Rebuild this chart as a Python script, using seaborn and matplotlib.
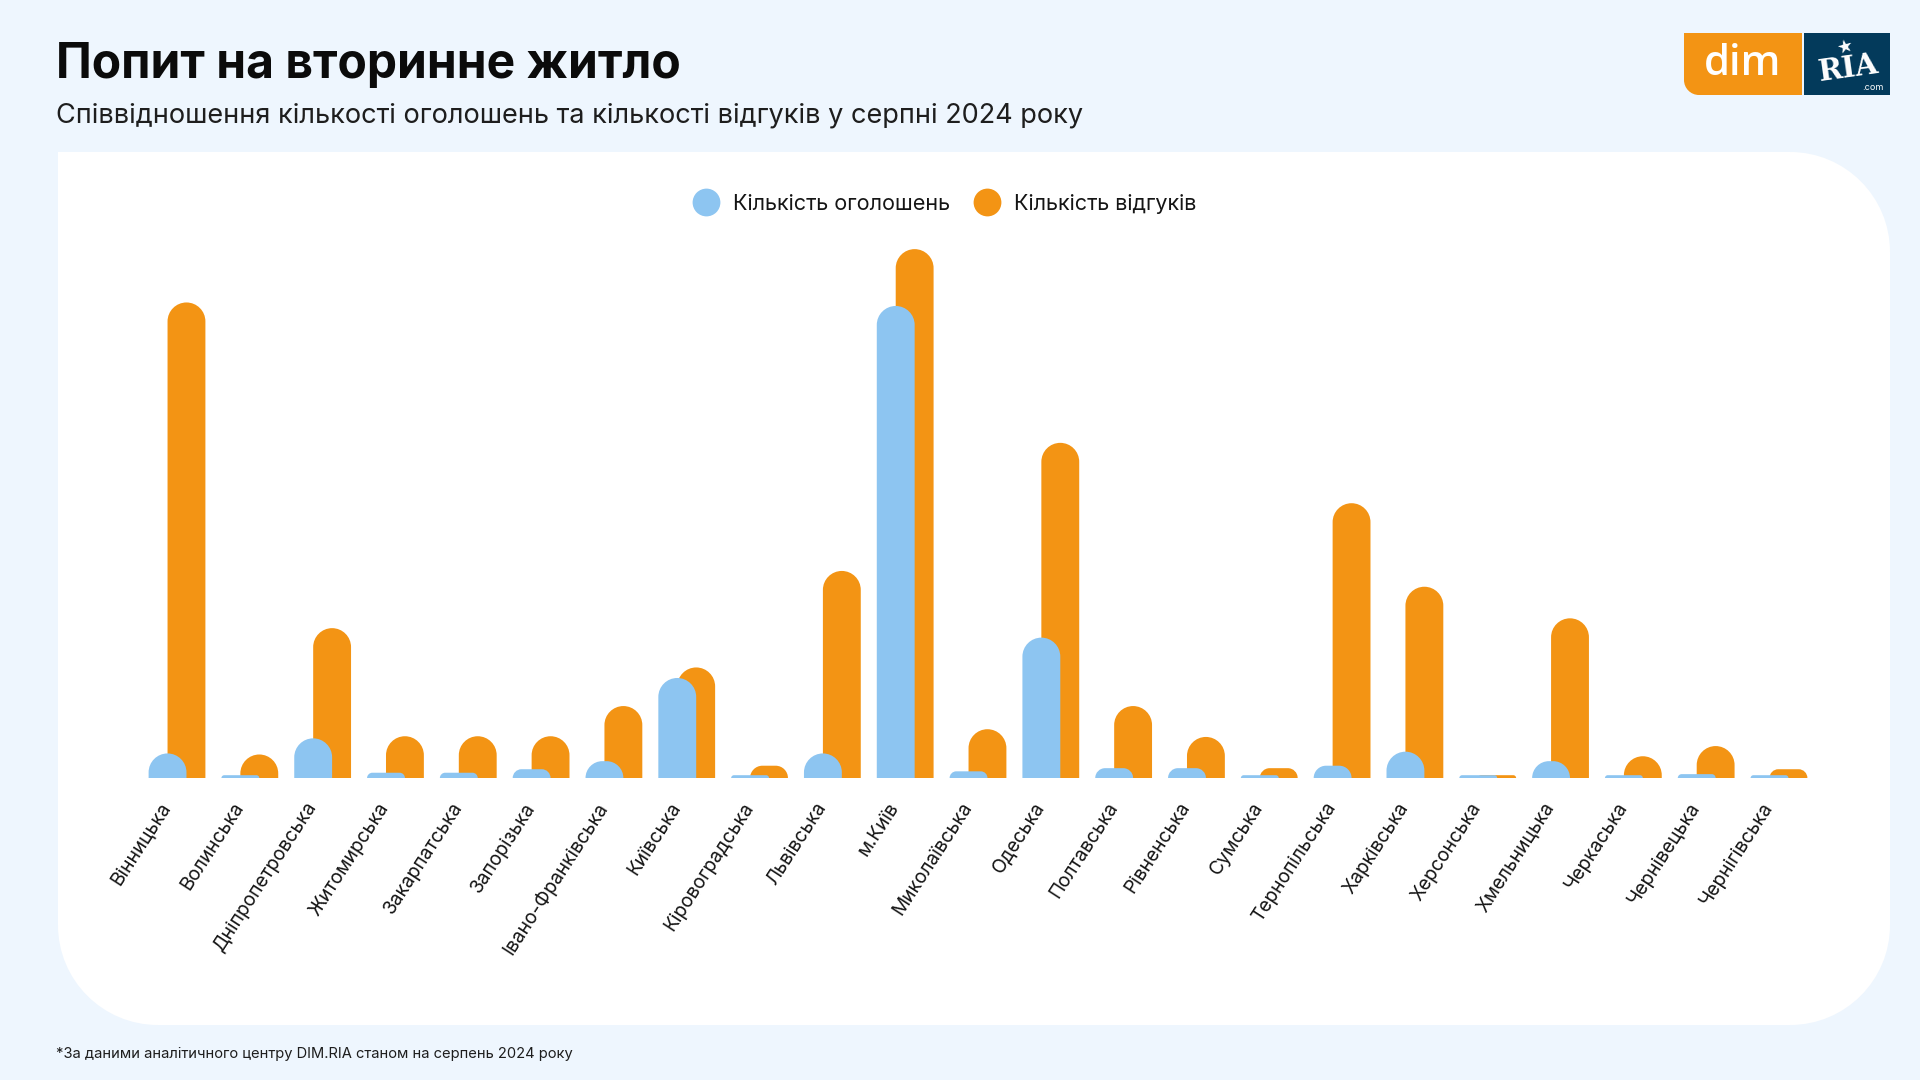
import matplotlib
matplotlib.use("Agg")
import matplotlib.pyplot as plt
import seaborn as sns
import pandas as pd
from matplotlib.path import Path
from matplotlib.patches import PathPatch
from matplotlib.transforms import Affine2D, ScaledTranslation
from matplotlib.lines import Line2D

# ---------------- data ----------------
regions = ["Вінницька", "Волинська", "Дніпропетровська", "Житомирська", "Закарпатська",
           "Запорізька", "Івано-Франківська", "Київська", "Кіровоградська", "Львівська",
           "м.Київ", "Миколаївська", "Одеська", "Полтавська", "Рівненська", "Сумська",
           "Тернопільська", "Харківська", "Херсонська", "Хмельницька", "Черкаська",
           "Чернівецька", "Чернігівська"]
listings = [70, 8, 113, 15, 15, 25, 48, 285, 8, 70, 1345, 19, 400, 28, 28, 8,
            35, 75, 8, 48, 8, 11, 8]
responses = [1355, 67, 427, 119, 119, 119, 205, 315, 35, 590, 1507, 139, 955, 205,
             117, 28, 783, 545, 8, 455, 62, 91, 25]
series_names = ["Кількість оголошень", "Кількість відгуків"]
colors = ["#8DC5F1", "#F39414"]

title = "Попит на вторинне житло"
subtitle = "Співвідношення кількості оголошень та кількості відгуків у серпні 2024 року"
footnote = "*За даними аналітичного центру DIM.RIA станом на серпень 2024 року"

df = pd.DataFrame({"region": regions * 2,
                   "value": listings + responses,
                   "series": [series_names[0]] * len(regions) + [series_names[1]] * len(regions)})

# ---------------- figure ----------------
W, H = 1920, 1080
sns.set_theme(style="white")
plt.rcParams['font.family'] = ['Inter', 'DejaVu Sans']

fig = plt.figure(figsize=(W / 100, H / 100), dpi=100)
fig.patch.set_facecolor("#EEF6FE")
PX = Affine2D().scale(1 / W, 1 / H) + fig.transFigure  # pixel (y up) -> figure


def rrect(x0, y0, x1, y1, r_tl, r_tr, r_br, r_bl):
    k = 0.5523
    verts, codes = [], []

    def mv(p):
        verts.append(p); codes.append(Path.MOVETO)

    def ln(p):
        verts.append(p); codes.append(Path.LINETO)

    def cv(c1, c2, p):
        verts.extend([c1, c2, p]); codes.extend([Path.CURVE4] * 3)

    mv((x0 + r_bl, y0))
    ln((x1 - r_br, y0))
    if r_br:
        cv((x1 - r_br + k * r_br, y0), (x1, y0 + r_br - k * r_br), (x1, y0 + r_br))
    ln((x1, y1 - r_tr))
    if r_tr:
        cv((x1, y1 - r_tr + k * r_tr), (x1 - r_tr + k * r_tr, y1), (x1 - r_tr, y1))
    ln((x0 + r_tl, y1))
    if r_tl:
        cv((x0 + r_tl - k * r_tl, y1), (x0, y1 - r_tl + k * r_tl), (x0, y1 - r_tl))
    ln((x0, y0 + r_bl))
    if r_bl:
        cv((x0, y0 + r_bl - k * r_bl), (x0 + r_bl - k * r_bl, y0), (x0 + r_bl, y0))
    verts.append((x0 + r_bl, y0)); codes.append(Path.CLOSEPOLY)
    return Path(verts, codes)


# white panel (top-left corner square, others rounded)
panel = PathPatch(rrect(58, H - 1025, 1890, H - 152, 0, 100, 100, 100),
                  facecolor="white", edgecolor="none", transform=PX, zorder=-10)
fig.add_artist(panel)

# ---------------- axes ----------------
left_px, right_px, base_px, top_px = 140.6, 1815.4, 778, 240
ax = fig.add_axes([left_px / W, 1 - base_px / H, (right_px - left_px) / W, (base_px - top_px) / H])
ax.set_zorder(1)
ax.patch.set_alpha(0)

sns.barplot(data=df, x="region", y="value", hue="series", order=regions,
            hue_order=series_names, palette=colors, legend=False, ax=ax,
            saturation=1, width=0.8, dodge=True)
ax.set_xlim(-0.5, len(regions) - 0.5)
ax.set_ylim(0, 1533)
for s in ax.spines.values():
    s.set_visible(False)
ax.set_yticks([])
ax.set_xlabel("")
ax.set_ylabel("")
ax.grid(False)

# replace seaborn's rectangles by bars with rounded tops (drawn in pixel space)
bar_w = 0.52
shift = 0.13
to_px = ax.transData + fig.transFigure.inverted() + Affine2D().scale(W, H)
bars = list(ax.patches)
for p in bars:
    cx = p.get_x() + p.get_width() / 2
    h = p.get_height()
    gi = round(cx)
    is_blue = cx < gi
    new_c = gi - shift if is_blue else gi + shift
    (x0, y0), (x1, y1) = to_px.transform([(new_c - bar_w / 2, 0), (new_c + bar_w / 2, h)])
    r = min((x1 - x0) / 2, y1 - y0)
    patch = PathPatch(rrect(x0, y0, x1, y1, r, r, 0, 0), facecolor=p.get_facecolor(),
                      edgecolor="none", transform=PX, zorder=3 if is_blue else 2)
    patch.set_clip_on(False)
    ax.add_artist(patch)
    p.set_visible(False)

ax.set_xticks(range(len(regions)))
ax.set_xticklabels(regions, rotation=57, ha="right", va="center",
                   rotation_mode="anchor", fontsize=13.8, color="#151515")
ax.tick_params(axis="x", length=0, pad=16)
offset = ScaledTranslation(-10 / 100, -4 / 100, fig.dpi_scale_trans)
for lbl in ax.get_xticklabels():
    lbl.set_transform(lbl.get_transform() + offset)

# ---------------- legend ----------------
handles = [Line2D([0], [0], marker="o", linestyle="none", markersize=20,
                  markerfacecolor=c, markeredgecolor="none") for c in colors]
fig.legend(handles, series_names, loc="center", bbox_to_anchor=(945 / W, 1 - 204 / H),
           ncol=2, frameon=False, fontsize=15.5, handletextpad=0.65, columnspacing=1.1,
           handlelength=1.2, labelcolor="#151515")

# ---------------- texts ----------------
fig.text(56 / W, 1 - 78 / H, title, fontsize=34.5, fontweight="bold", color="#0B0B0B",
         va="baseline", ha="left")
fig.text(56 / W, 1 - 122 / H, subtitle, fontsize=19.5, color="#1E1E1E",
         va="baseline", ha="left")
fig.text(56 / W, 1 - 1058 / H, footnote, fontsize=10.6, color="#1E1E1E",
         va="baseline", ha="left")

# ---------------- logo ----------------
fig.add_artist(PathPatch(rrect(1684, H - 95, 1802, H - 33, 0, 0, 0, 15),
                         facecolor="#F39414", edgecolor="none", transform=PX, zorder=5))
fig.add_artist(PathPatch(rrect(1804, H - 95, 1890, H - 33, 0, 0, 0, 0),
                         facecolor="#033A5B", edgecolor="none", transform=PX, zorder=5))
fig.text(1743 / W, 1 - 75 / H, "dim", fontsize=30, color="white", ha="center",
         va="baseline", family=["Open Sans", "DejaVu Sans"], fontweight="semibold", zorder=6)
fig.text(1848 / W, 1 - 68 / H, "RIA", fontsize=21, color="white", ha="center",
         va="center", fontweight="bold", family=["DejaVu Serif"], rotation=8, zorder=6)
fig.text(1845 / W, 1 - 47 / H, "★", fontsize=13, color="white", ha="center",
         va="center", family=["DejaVu Sans"], rotation=15, zorder=7)
fig.text(1873 / W, 1 - 87 / H, ".com", fontsize=6.5, color="white", ha="center",
         va="center", zorder=6)

fig.savefig("out.png", dpi=100, facecolor=fig.get_facecolor())
